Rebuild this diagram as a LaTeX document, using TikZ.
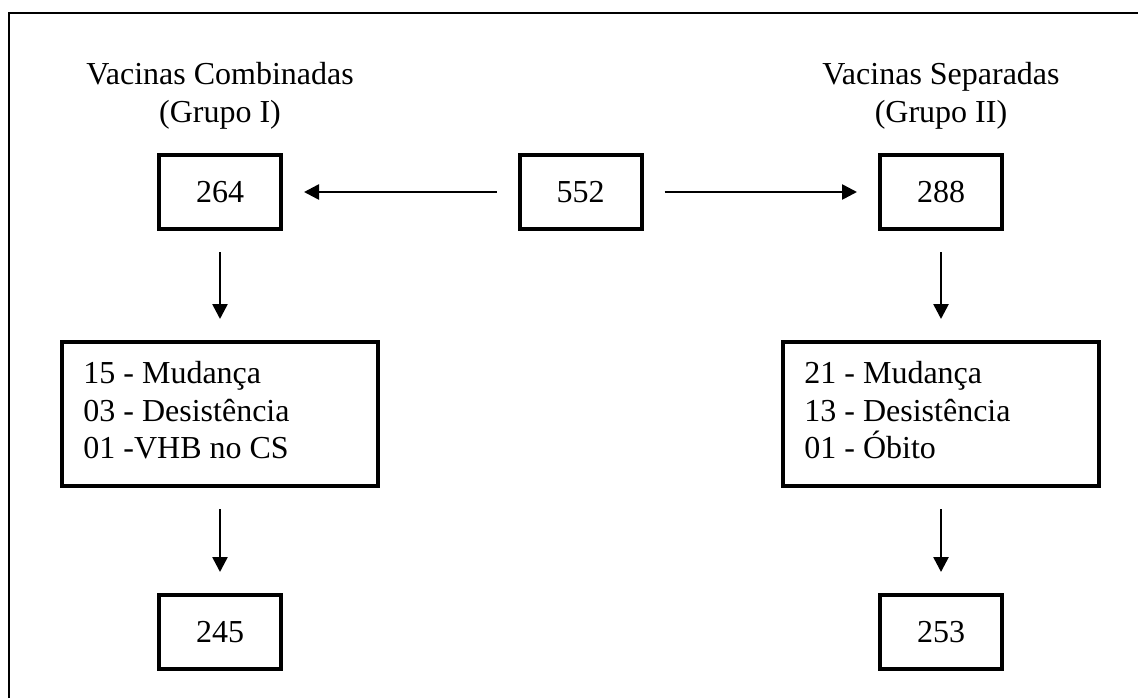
\documentclass[tikz,border=0pt]{standalone}
\usepackage{fontspec}
\setmainfont{Liberation Serif}
\usepackage{tikz}
\usetikzlibrary{arrows.meta, positioning}
\tikzset{>={Triangle[length=7.5pt,width=7.5pt]}}
\def\rescale{0.5}
\def\countwidth{61pt}
\def\countheight{37pt}
\def\listwidth{158pt}
\def\listheight{72pt}
\def\leftcol{220}
\def\rightcol{941}
\tikzset{
  countbox/.style={draw, line width=2pt, minimum width=\countwidth, minimum height=\countheight, inner sep=0pt},
  listbox/.style={draw, line width=2pt, minimum width=\listwidth, minimum height=\listheight, inner sep=0pt},
  listtext/.style={align=left, anchor=north west, inner sep=0pt},
  heading/.style={align=center, inner sep=0pt},
  flow/.style={->, line width=1.3pt, shorten <=10.5pt, shorten >=10.5pt}
}

\begin{document}
\begin{tikzpicture}[x=\rescale pt, y=\rescale pt, font=\fontsize{16}{18.75}\selectfont]

\useasboundingbox (0, 0) rectangle (1138, 698);

% Frame
\draw[line width=1.2pt] (9, 0) -- (9, 685) -- (1138, 685);

\coordinate[](center_top) at (580.5, 506) {};
\coordinate[](left_top) at (\leftcol, 506) {};
\coordinate[](right_top) at (\rightcol, 506) {};
\coordinate[](left_mid) at (\leftcol, 284) {};
\coordinate[](right_mid) at (\rightcol, 284) {};
\coordinate[](left_bottom) at (\leftcol, 66) {};
\coordinate[](right_bottom) at (\rightcol, 66) {};

\node[heading] (title_left) at ([yshift=48pt]left_top) {Vacinas Combinadas\\(Grupo I)};
\node[heading] (title_right) at ([yshift=48pt]right_top) {Vacinas Separadas\\(Grupo II)};

\node[countbox] (total) at (center_top) {552};
\node[countbox] (group_one) at (left_top) {264};
\node[countbox] (group_two) at (right_top) {288};

\node[listbox] (loss_one) at (left_mid) {};
\node[listbox] (loss_two) at (right_mid) {};
\node[listtext] (loss_one_text) at ([xshift=11.5pt, yshift=-10.5pt]loss_one.north west) {15 - Mudança\\03 - Desistência\\01 -VHB no CS};
\node[listtext] (loss_two_text) at ([xshift=11.5pt, yshift=-10.5pt]loss_two.north west) {21 - Mudança\\13 - Desistência\\01 - Óbito};

\node[countbox] (final_one) at (left_bottom) {245};
\node[countbox] (final_two) at (right_bottom) {253};

\draw[flow] (total) -- (group_one);
\draw[flow] (total) -- (group_two);
\draw[flow] (group_one) -- (loss_one);
\draw[flow] (group_two) -- (loss_two);
\draw[flow] (loss_one) -- (final_one);
\draw[flow] (loss_two) -- (final_two);

\end{tikzpicture}
\end{document}
